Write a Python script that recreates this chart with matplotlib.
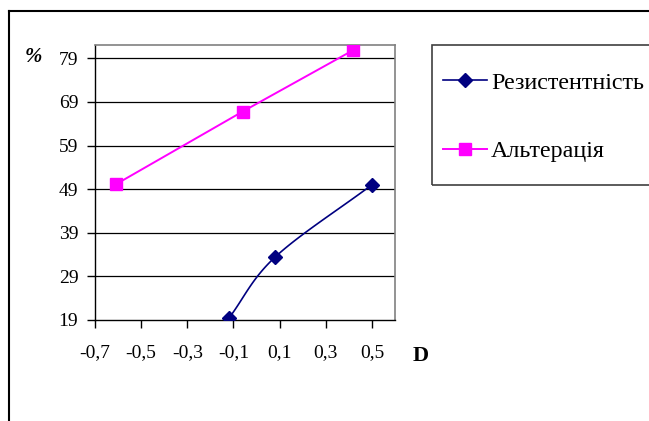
import numpy as np
import matplotlib

matplotlib.use("Agg")
import matplotlib.pyplot as plt
from matplotlib.lines import Line2D
from matplotlib.patches import Rectangle

plt.rcParams["font.family"] = ["Liberation Serif", "DejaVu Serif"]
plt.rcParams["font.size"] = 14

# D vs % for the two groups
resist_d = [-0.12, 0.08, 0.50]
resist_pct = [19.4, 33.4, 50.0]
alter_d = [-0.61, -0.06, 0.42]
alter_pct = [50.1, 66.8, 80.9]

y_ticks = [19, 29, 39, 49, 59, 69, 79]
x_ticks = [-0.7, -0.5, -0.3, -0.1, 0.1, 0.3, 0.5]
x_labels = ["-0,7", "-0,5", "-0,3", "-0,1", "0,1", "0,3", "0,5"]

NAVY = "#000080"
MAGENTA = "#FF00FF"


def smooth(xs, ys, n=40):
    """Catmull-Rom curve through the points, like a spreadsheet 'smoothed line'."""
    p = np.column_stack([xs, ys]).astype(float)
    p = np.vstack([2 * p[0] - p[1], p, 2 * p[-1] - p[-2]])
    out = []
    t = np.linspace(0, 1, n)[:, None]
    for i in range(1, len(p) - 2):
        p0, p1, p2, p3 = p[i - 1], p[i], p[i + 1], p[i + 2]
        seg = 0.5 * ((2 * p1) + (-p0 + p2) * t + (2 * p0 - 5 * p1 + 4 * p2 - p3) * t**2
                     + (-p0 + 3 * p1 - 3 * p2 + p3) * t**3)
        out.append(seg if i == 1 else seg[1:])
    out = np.vstack(out)
    return out[:, 0], out[:, 1]


W, H = 649, 421
fig = plt.figure(figsize=(W / 100, H / 100), dpi=100)
ax = fig.add_axes([95 / W, (H - 320) / H, 300 / W, 275 / H])

for y in y_ticks[1:]:
    ax.axhline(y, color="black", lw=0.9, zorder=1)

sx, sy = smooth(resist_d, resist_pct)
ax.plot(sx, sy, color=NAVY, lw=1.2, zorder=3)
ax.plot(resist_d, resist_pct, ls="none", marker="D", ms=7.5, color=NAVY, zorder=4)
ax.plot(alter_d, alter_pct, color=MAGENTA, lw=1.4, marker="s", ms=8.5, zorder=3)

ax.set_xlim(-0.7, 0.6)
ax.set_ylim(19, 82.05)
ax.set_xticks(x_ticks)
ax.set_xticklabels(x_labels)
ax.set_yticks(y_ticks)
ax.tick_params(direction="out", length=6, width=1, color="black", pad=6, labelsize=14)
ax.tick_params(axis="x", pad=11)
for side in ("top", "right"):
    ax.spines[side].set_color("#808080")
    ax.spines[side].set_linewidth(1.2)
for side in ("left", "bottom"):
    ax.spines[side].set_color("black")
    ax.spines[side].set_linewidth(1.0)

fig.text(33 / W, (H - 57) / H, "%", fontsize=15, fontweight="bold", fontstyle="italic",
         ha="center", va="center")
fig.text(421 / W, (H - 356) / H, "D", fontsize=16, fontweight="bold",
         ha="center", va="center")

# outer chart frame and legend box
fig.add_artist(Line2D([9 / W, 9 / W], [0, (H - 10.5) / H], color="black", lw=1.5,
                      transform=fig.transFigure))
fig.add_artist(Line2D([9 / W, 1.0], [(H - 10.5) / H] * 2, color="black", lw=1.5,
                      transform=fig.transFigure))
fig.add_artist(Rectangle((432 / W, (H - 185) / H), 240 / W, 140 / H, fill=False,
                         ec="#404040", lw=1.2, transform=fig.transFigure))

handles = [
    Line2D([], [], color=NAVY, lw=1.2, marker="D", ms=7.5),
    Line2D([], [], color=MAGENTA, lw=1.4, marker="s", ms=8.5),
]
fig.legend(handles, ["Резистентність", "Альтерація"], loc="upper left",
           bbox_to_anchor=(443 / W, (H - 72) / H), frameon=False, fontsize=17.3,
           handlelength=1.82, handletextpad=0.18, labelspacing=1.95, borderpad=0,
           borderaxespad=0)

fig.savefig("out.png", dpi=100)
